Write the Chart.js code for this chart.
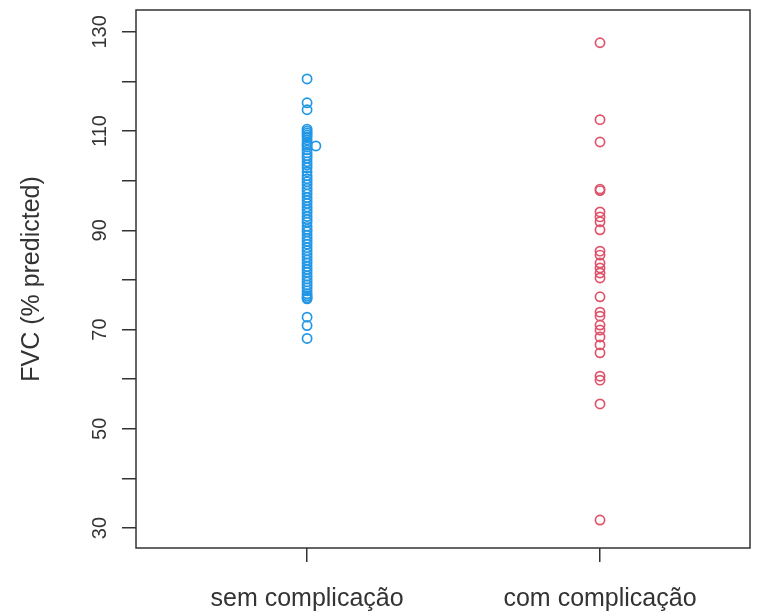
<!DOCTYPE html>
<html>
<head>
<meta charset="utf-8">
<script src="https://cdn.jsdelivr.net/npm/chart.js@4/dist/chart.umd.min.js"></script>
<style>
  html, body { margin: 0; padding: 0; background: #fff; }
  #wrap { width: 759px; height: 614px; }
</style>
</head>
<body>
<div id="wrap"><canvas id="fvc" width="759" height="614"></canvas></div>
<script>
const groups = ["sem complicação", "com complicação"];

// FVC (% predicted)
const semVals = [120.5, 115.7, 114.3, 110.4, 110.0, 109.6, 109.2, 108.8, 108.2, 107.6,
  107.2, 106.8, 106.2, 105.6, 105.0, 104.5, 103.8, 103.2, 102.6, 101.8, 101.0, 100.4,
  99.8, 99.2, 98.5, 97.9, 97.3, 96.6, 96.0, 95.4, 94.7, 94.1, 93.5, 92.8, 92.2, 91.6,
  90.8, 90.2, 89.7, 89.0, 88.4, 87.8, 87.2, 86.5, 85.9, 85.2, 84.6, 84.0, 83.4, 82.7,
  82.1, 81.5, 80.8, 80.2, 79.6, 79.0, 78.4, 77.8, 77.2, 76.8, 76.4, 76.2,
  72.5, 70.8, 68.2];
const semOffset = [107.0]; // the one point drawn slightly to the right
const comVals = [127.8, 112.3, 107.8, 98.3, 98.0, 93.7, 92.7, 91.7, 90.1, 85.8, 85.0,
  83.4, 82.4, 81.4, 80.4, 76.6, 73.5, 72.7, 70.9, 69.9, 68.5, 66.9, 65.3, 60.6, 59.8,
  55.0, 31.6];

const yTicks = [30, 40, 50, 60, 70, 80, 90, 100, 110, 120, 130];
const yLabels = [30, 50, 70, 90, 110, 130];

const semPts = semVals.map(v => ({ x: 1, y: v })).concat(semOffset.map(v => ({ x: 1.03, y: v })));
const comPts = comVals.map(v => ({ x: 2, y: v }));

const ink = "#333333";

// box round the plot + rotated y labels like R
const rStyle = {
  id: "rStyle",
  afterDraw(chart) {
    const { ctx, chartArea: a } = chart;
    const ys = chart.scales.y;
    ctx.save();
    ctx.strokeStyle = ink;
    ctx.lineWidth = 1.5;
    ctx.strokeRect(a.left, a.top, a.right - a.left, a.bottom - a.top);

    ctx.fillStyle = ink;
    ctx.font = "20px 'Liberation Sans', Arial, sans-serif";
    ctx.textAlign = "center";
    ctx.textBaseline = "middle";
    yLabels.forEach(v => {
      const py = ys.getPixelForValue(v);
      ctx.save();
      ctx.translate(100, py);
      ctx.rotate(-Math.PI / 2);
      ctx.fillText(String(v), 0, 0);
      ctx.restore();
    });
    ctx.restore();
  }
};

new Chart(document.getElementById("fvc"), {
  type: "scatter",
  data: {
    datasets: [
      {
        data: semPts,
        borderColor: "#2297E6",
        backgroundColor: "rgba(0,0,0,0)",
        pointRadius: 4.6,
        pointBorderWidth: 1.7
      },
      {
        data: comPts,
        borderColor: "#DF536B",
        backgroundColor: "rgba(0,0,0,0)",
        pointRadius: 4.6,
        pointBorderWidth: 1.7
      }
    ]
  },
  options: {
    responsive: false,
    animation: false,
    layout: { padding: { top: 10, right: 9, left: 0, bottom: 0 } },
    plugins: { legend: { display: false }, tooltip: { enabled: false } },
    scales: {
      x: {
        type: "linear",
        min: 0.416,
        max: 2.512,
        afterBuildTicks: s => { s.ticks = [{ value: 1 }, { value: 2 }]; },
        afterFit: s => { s.height = 66; },
        ticks: {
          color: ink,
          padding: 22,
          maxRotation: 0,
          font: { size: 25, family: "'Liberation Sans', Arial, sans-serif" },
          callback: v => groups[v - 1] || ""
        },
        grid: { drawOnChartArea: false, drawTicks: true, tickLength: 14, color: ink, lineWidth: 1.5 },
        border: { display: false }
      },
      y: {
        min: 25.97,
        max: 134.4,
        afterBuildTicks: s => { s.ticks = yTicks.map(v => ({ value: v })); },
        afterFit: s => { s.width = 136; },
        ticks: { display: false },
        grid: { drawOnChartArea: false, drawTicks: true, tickLength: 14, color: ink, lineWidth: 1.5 },
        border: { display: false },
        title: {
          display: true,
          text: "FVC (% predicted)",
          color: ink,
          padding: { top: 17, bottom: 0 },
          font: { size: 25, family: "'Liberation Sans', Arial, sans-serif" }
        }
      }
    }
  },
  plugins: [rStyle]
});
</script>
</body>
</html>
